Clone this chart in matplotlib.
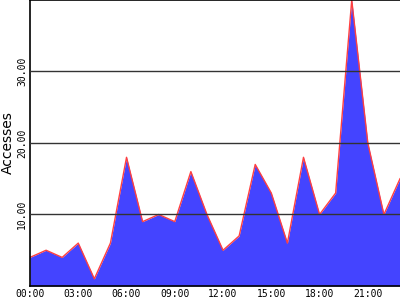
import matplotlib
matplotlib.use("Agg")
import matplotlib.pyplot as plt

# hourly access counts
hours = list(range(24))
accesses = [4, 5, 4, 6, 1, 6, 18, 9, 10, 9, 16, 10,
            5, 7, 17, 13, 6, 18, 10, 13, 40, 20, 10, 15]
xtick_pos = [0, 3, 6, 9, 12, 15, 18, 21]
xtick_labels = ["00:00", "03:00", "06:00", "09:00", "12:00", "15:00", "18:00", "21:00"]
ytick_pos = [10, 20, 30]
ytick_labels = ["10.00", "20.00", "30.00"]

fig = plt.figure(figsize=(4, 3), dpi=100)
ax = fig.add_axes([0.075, 0.0467, 0.925, 0.9533])

ax.fill_between(hours, accesses, 0, color="#4444ff", linewidth=0)
ax.plot(hours, accesses, color="#ff4040", linewidth=1)

ax.set_xlim(0, 23)
ax.set_ylim(0, 40)

for y in ytick_pos:
    ax.axhline(y, color="#333333", linewidth=1, zorder=3)

ax.set_xticks(xtick_pos)
ax.set_xticklabels(xtick_labels, family="DejaVu Sans Mono", fontsize=7)
ax.set_yticks(ytick_pos)
ax.set_yticklabels(ytick_labels, family="DejaVu Sans Mono", fontsize=7,
                   rotation=90, va="center")
ax.tick_params(length=0, pad=2)
ax.set_ylabel("Accesses", fontsize=10, labelpad=2)

for s in ["left", "bottom", "top"]:
    ax.spines[s].set_color("black")
    ax.spines[s].set_linewidth(1.2)
ax.spines["right"].set_visible(False)

fig.savefig("out.png", dpi=100)
